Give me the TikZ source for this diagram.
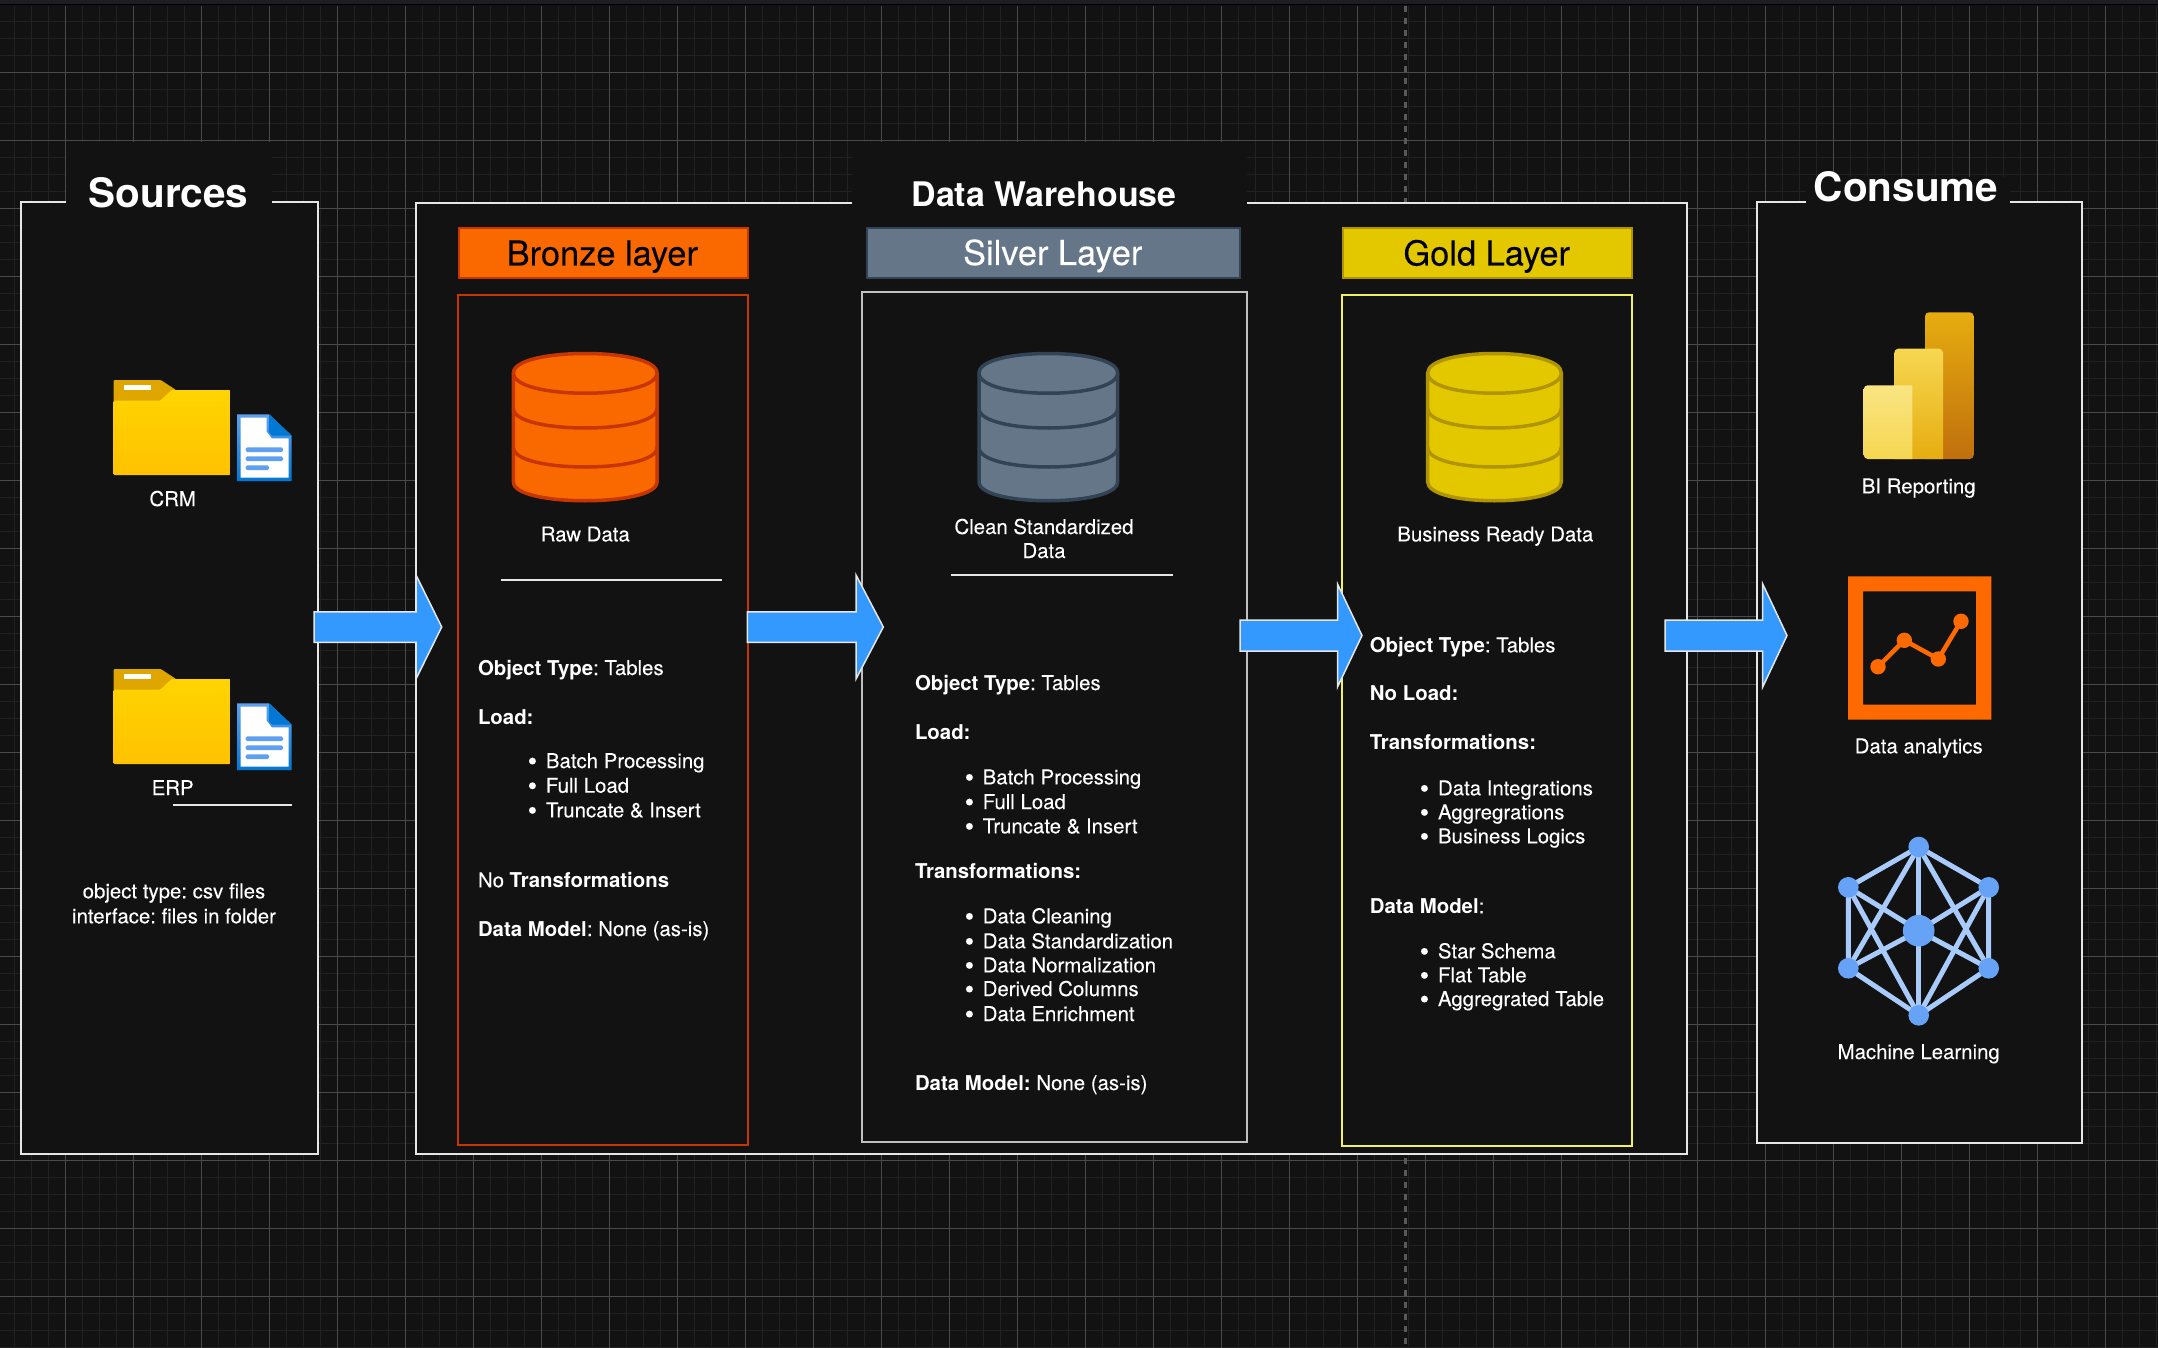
\documentclass[tikz,border=0pt]{standalone}
\usepackage{fontspec}
\usetikzlibrary{calc}
\setmainfont{TeX Gyre Heros}[UprightFeatures={FakeBold=0.12}]
\frenchspacing
\definecolor{bgc}{HTML}{121212}
\definecolor{topbar}{HTML}{1C1E22}
\definecolor{gridminor}{HTML}{212121}
\definecolor{gridmajor}{HTML}{4A4A4A}
\definecolor{gridcentre}{HTML}{595959}
\definecolor{frameline}{HTML}{E6E6E6}
\definecolor{bronzefill}{HTML}{FA6800}
\definecolor{bronzeline}{HTML}{C73500}
\definecolor{silverfill}{HTML}{647687}
\definecolor{silverline}{HTML}{314354}
\definecolor{silverbox}{HTML}{C0C0C0}
\definecolor{goldfill}{HTML}{E3C800}
\definecolor{goldline}{HTML}{B09500}
\definecolor{goldbox}{HTML}{F0F060}
\definecolor{arrowblue}{HTML}{3399FF}
\definecolor{docblue}{HTML}{0078D4}
\definecolor{doclight}{HTML}{5EA0EF}
\definecolor{foldertab}{HTML}{DFA600}
\definecolor{foldertop}{HTML}{FFD400}
\definecolor{folderbot}{HTML}{FFC200}
\definecolor{analytics}{HTML}{FF6A00}
\definecolor{netnode}{HTML}{66A3F7}
\definecolor{netedge}{HTML}{A8CBFB}
\definecolor{pbione}{HTML}{F9E583}
\definecolor{pbitwo}{HTML}{F6D751}
\definecolor{pbithree}{HTML}{E6AD10}
\definecolor{pbifour}{HTML}{C06F0C}
\tikzset{
  x=1pt,y=-1pt,
  frame/.style={draw=frameline,line width=2pt,fill=bgc,inner sep=0pt,outer sep=0pt,anchor=north west},
  layerbox/.style={line width=2pt,fill=bgc,inner sep=0pt,outer sep=0pt,anchor=north west},
  banner/.style={line width=2pt,inner sep=0pt,outer sep=0pt,anchor=north west,minimum height=50.5pt},
  bannertxt/.style={font=\fontsize{34.4}{38}\selectfont,inner sep=0pt,anchor=base},
  titletxt/.style={font=\fontsize{40.5}{44}\selectfont\bfseries,text=white,inner sep=0pt,anchor=base},
  bodytxt/.style={font=\fontsize{20.4}{24.5}\selectfont,text=white,inner sep=0pt,anchor=base west},
  captxt/.style={font=\fontsize{20.4}{24.5}\selectfont,text=white,inner sep=0pt,anchor=base},
  rulel/.style={draw=frameline,line width=2pt},
  blockarrow/.style={fill=arrowblue,draw=frameline,line width=1.5pt,line join=miter},
}
% block arrow between two named coordinates: start, tip, head length, half shaft, half head
\newcommand\blockarr[5]{%
  \path let \p1=(#1),\p2=(#2) in
    [blockarrow] (\x1,\y1+#4pt) -- (\x2-#3pt,\y1+#4pt) -- (\x2-#3pt,\y1+#5pt) -- (\x2,\y2)
    -- (\x2-#3pt,\y1-#5pt) -- (\x2-#3pt,\y1-#4pt) -- (\x1,\y1-#4pt) -- cycle;}
% database drum: x0, x1, fill, stroke
\newcommand\drum[4]{%
  \begin{scope}[line width=3.5pt,draw=#4,fill=#3]
    \filldraw (#1,373) .. controls (#1,347) and (#2,347) .. (#2,373) -- (#2,482)
       .. controls (#2,507) and (#1,507) .. (#1,482) -- cycle;
    \draw (#1,373) .. controls (#1,400) and (#2,400) .. (#2,373);
    \draw (#1,408.5) .. controls (#1,434.5) and (#2,434.5) .. (#2,408.5);
    \draw (#1,447.5) .. controls (#1,473.5) and (#2,473.5) .. (#2,447.5);
  \end{scope}}
% folder and document icon, vertically offset
\newcommand\foldericon[1]{%
  \begin{scope}[shift={(0,#1)}]
    \fill[rounded corners=1pt,foldertab] (113.7,410) -- (113.7,380) -- (160.7,380) -- (176,390) -- (176,410) -- cycle;
    \shade[top color=foldertop,bottom color=folderbot,rounded corners=1pt]
      (113.7,475) -- (113.7,400.7) -- (160,400.7) -- (171.7,390) -- (230.3,390) -- (230.3,475) -- cycle;
    \fill[white] (124.3,385) rectangle (150.7,390);
    \shade[top color=doclight,bottom color=docblue] (237,414.3) -- (269,414.3) -- (291.7,435.7) -- (291.7,481) -- (237,481) -- cycle;
    \fill[white] (240.7,417.7) -- (266.7,417.7) -- (266.7,431.7) -- (271.7,438.3) -- (288.7,438.3) -- (288.7,477.7) -- (240.7,477.7) -- cycle;
    \fill[docblue] (269,414.3) -- (291.7,435.7) -- (272,435.7) -- (269,432) -- cycle;
    \fill[doclight,rounded corners=1.5pt] (245.7,447.3) rectangle (283,452);
    \fill[doclight,rounded corners=1.5pt] (245.7,456.3) rectangle (283,461);
    \fill[doclight,rounded corners=1.5pt] (245.7,465.3) rectangle (269,470);
  \end{scope}}
% list item: name, bullet x, text x minus bullet x, baseline, text
\newcommand\lstitem[5]{\node[bodytxt] (#1) at (#2,#4) {\makebox[#3pt][l]{\hspace{0.5pt}\raisebox{-2.4pt}{\fontsize{27}{27}\selectfont\textbullet}}#5};}
\begin{document}
\begin{tikzpicture}
\useasboundingbox (0,0) rectangle (2158,1348);
\fill[bgc] (0,0) rectangle (2158,1348);
\fill[topbar] (0,0) rectangle (2158,4);
\fill[black] (0,4) rectangle (2158,5.5);
% canvas grid
\foreach \gx in {-2.7,14.3,...,2170} \draw[gridminor,line width=1.5pt] (\gx,6) -- (\gx,1348);
\foreach \gy in {21.3,38.3,...,1360} \draw[gridminor,line width=1.5pt] (0,\gy) -- (2158,\gy);
\foreach \gx in {65.3,133.3,...,2170} \draw[gridmajor,line width=1pt] (\gx,6) -- (\gx,1348);
\foreach \gy in {72.3,140.3,...,1360} \draw[gridmajor,line width=1pt] (0,\gy) -- (2158,\gy);
\draw[gridcentre,line width=2.5pt,dash pattern=on 6pt off 6pt] (1405.7,6) -- (1405.7,1348);

% outer frames
\node[frame,minimum width=297.6pt,minimum height=952.3pt] (sources) at (20.7,201.7) {};
\node[frame,minimum width=1271pt,minimum height=951.2pt] (warehouse) at (416,202.7) {};
\node[frame,minimum width=324.7pt,minimum height=941pt] (consume) at (1757.3,202) {};

% title covers
\fill[bgc] (66,141.7) rectangle (271.7,205);
\fill[bgc] (851.7,141.7) rectangle (1247,205);
\fill[bgc] (1806,177) rectangle (2010,205);
\node[titletxt] (sourcestitle) at (168.5,207.3) {Sources};
\node[titletxt,font=\fontsize{33.9}{38}\selectfont\bfseries] (warehousetitle) at (1044,206.9) {Data Warehouse};
\node[titletxt] (consumetitle) at (1906,201.3) {Consume};

% layer banners and boxes
\node[banner,fill=bronzefill,draw=bronzeline,minimum width=289pt] (bronzebanner) at (458.5,228) {};
\node[bannertxt,text=black] (bronzelabel) at (602.3,265.5) {Bronze layer};
\node[banner,fill=silverfill,draw=silverline,minimum width=373.5pt] (silverbanner) at (866.8,228) {};
\node[bannertxt,text=white] (silverlabel) at (1052.7,265) {Silver Layer};
\node[banner,fill=goldfill,draw=goldline,minimum width=289pt] (goldbanner) at (1342.7,228) {};
\node[bannertxt,text=black] (goldlabel) at (1486.7,265.5) {Gold Layer};

\node[layerbox,draw=bronzeline,minimum width=289.5pt,minimum height=850pt] (bronzebox) at (458.4,295.4) {};
\node[layerbox,draw=silverbox,minimum width=385.3pt,minimum height=849.6pt] (silverpanel) at (862,292.3) {};
\node[layerbox,draw=goldbox,minimum width=289.8pt,minimum height=850.3pt] (goldpanel) at (1342.2,295.4) {};

% drums
\drum{513.4}{657}{bronzefill}{bronzeline}
\drum{979}{1117.6}{silverfill}{silverline}
\drum{1427.7}{1561.3}{goldfill}{goldline}
\node[captxt] (rawdata) at (585.3,541.4) {Raw Data};
\node[captxt] (cleana) at (1044,534) {Clean Standardized};
\node[captxt] (cleanb) at (1044,558) {Data};
\node[captxt] (bizdata) at (1495.3,541.4) {Business Ready Data};

% rules
\coordinate (rb1) at (501,580.3); \coordinate (rb2) at (722,580.3);
\coordinate (rs1) at (951.3,574.7); \coordinate (rs2) at (1172.7,574.7);
\coordinate (re1) at (173,805); \coordinate (re2) at (292,805);
\draw[rulel] (rb1) -- (rb2);
\draw[rulel] (rs1) -- (rs2);
\draw[rulel] (re1) -- (re2);

% sources
\foldericon{0}
\foldericon{289}
\node[captxt] (crm) at (172.7,506) {CRM};
\node[captxt] (erp) at (172.7,795) {ERP};
\node[captxt] (srctype) at (174,898.3) {object type: csv files};
\node[captxt] (srciface) at (174,923.3) {interface: files in folder};

% bronze text
\node[bodytxt] (b1) at (477.8,675) {\textbf{Object Type}: Tables};
\node[bodytxt] (b2) at (477.8,724) {\textbf{Load:}};
\lstitem{b3}{527}{18.7}{768}{Batch Processing}
\lstitem{b4}{527}{18.7}{792.7}{Full Load}
\lstitem{b5}{527}{18.7}{817.3}{Truncate \& Insert}
\node[bodytxt] (b6) at (477.8,887.3) {No \textbf{Transformations}};
\node[bodytxt] (b7) at (477.8,936) {\textbf{Data Model}: None (as-is)};

% silver text
\node[bodytxt] (s1) at (914.8,690) {\textbf{Object Type}: Tables};
\node[bodytxt] (s2) at (914.8,739) {\textbf{Load:}};
\lstitem{s3}{964}{18.5}{784.3}{Batch Processing}
\lstitem{s4}{964}{18.5}{809}{Full Load}
\lstitem{s5}{964}{18.5}{833.3}{Truncate \& Insert}
\node[bodytxt] (s6) at (914.8,878) {\textbf{Transformations:}};
\lstitem{s7}{964}{18.5}{923.3}{Data Cleaning}
\lstitem{s8}{964}{18.5}{948.3}{Data Standardization}
\lstitem{s9}{964}{18.5}{972.3}{Data Normalization}
\lstitem{s10}{964}{18.5}{996}{Derived Columns}
\lstitem{s11}{964}{18.5}{1021}{Data Enrichment}
\node[bodytxt] (s12) at (914.8,1090) {\textbf{Data Model:} None (as-is)};

% gold text
\node[bodytxt] (g1) at (1369.6,652.3) {\textbf{Object Type}: Tables};
\node[bodytxt] (g2) at (1369.6,700) {\textbf{No Load:}};
\node[bodytxt] (g3) at (1369.6,749.3) {\textbf{Transformations:}};
\lstitem{g4}{1419}{18.8}{795.3}{Data Integrations}
\lstitem{g5}{1419}{18.8}{819.3}{Aggregrations}
\lstitem{g6}{1419}{18.8}{843.3}{Business Logics}
\node[bodytxt] (g7) at (1369.6,913.3) {\textbf{Data Model}:};
\lstitem{g8}{1419}{18.8}{958.3}{Star Schema}
\lstitem{g9}{1419}{18.8}{982.3}{Flat Table}
\lstitem{g10}{1419}{18.8}{1006}{Aggregrated Table}

% Power BI icon
\shade[top color=pbithree,bottom color=pbifour]
  (1925,459) [rounded corners=4pt] -- (1925,312.3) -- (1973.7,312.3) -- (1973.7,459) [sharp corners] -- cycle;
\shade[top color=pbitwo,bottom color=pbithree]
  (1894.3,459) [rounded corners=4pt] -- (1894.3,348.7) -- (1943,348.7) [sharp corners] -- (1943,459) -- cycle;
\shade[top color=pbione,bottom color=pbitwo]
  (1912.3,459) -- (1912.3,385.3) [rounded corners=4pt] -- (1863.7,385.3) -- (1863.7,459) [sharp corners] -- cycle;
\node[captxt] (bi) at (1918.7,493.3) {BI Reporting};

% analytics icon
\fill[analytics,even odd rule] (1848,576.3) rectangle (1991.3,719.7) (1863,591.3) rectangle (1976,704.7);
\coordinate (c1) at (1878,666.7);
\coordinate (c2) at (1904.3,640.3);
\coordinate (c3) at (1938.3,659);
\coordinate (c4) at (1961,621.3);
\draw[analytics,line width=4.5pt] (c1) -- (c2) -- (c3) -- (c4);
\foreach \pt in {c1,c2,c3,c4} \fill[analytics] (\pt) circle[radius=7.7];
\node[captxt] (analyticslabel) at (1918.7,753.3) {Data analytics};

% network icon
\coordinate (nT) at (1918.7,847);
\coordinate (nTL) at (1848.3,887.3);
\coordinate (nTR) at (1988.7,887.3);
\coordinate (nBL) at (1848.3,968.3);
\coordinate (nBR) at (1988.7,968.3);
\coordinate (nB) at (1918.7,1015.3);
\coordinate (nC) at (1918.7,930.7);
\draw[netedge,line width=5pt] (nT) -- (nTR) -- (nBR) -- (nB) -- (nBL) -- (nTL) -- cycle;
\foreach \aa/\bb in {nC/nT,nC/nTL,nC/nTR,nC/nBL,nC/nBR,nC/nB,nT/nBL,nT/nBR,nB/nTL,nB/nTR}
  \draw[netedge,line width=5pt] (\aa) -- (\bb);
\foreach \pt in {nT,nTL,nTR,nBL,nBR,nB} \fill[netnode] (\pt) circle[radius=10.3];
\fill[netnode] (nC) circle[radius=15.8];
\node[captxt] (ml) at (1918.7,1059) {Machine Learning};

% flow arrows
\coordinate (a1s) at (314,627); \coordinate (a1t) at (441.7,627);
\coordinate (a2s) at (747.3,627); \coordinate (a2t) at (883.3,627);
\coordinate (a3s) at (1240,635.5); \coordinate (a3t) at (1362,635.5);
\coordinate (a4s) at (1665,635.5); \coordinate (a4t) at (1787,635.5);
\blockarr{a1s}{a1t}{25.7}{15.25}{52}
\blockarr{a2s}{a2t}{27.3}{15.25}{52}
\blockarr{a3s}{a3t}{24.5}{15.5}{51.5}
\blockarr{a4s}{a4t}{24.3}{15.5}{51.5}
\end{tikzpicture}
\end{document}
